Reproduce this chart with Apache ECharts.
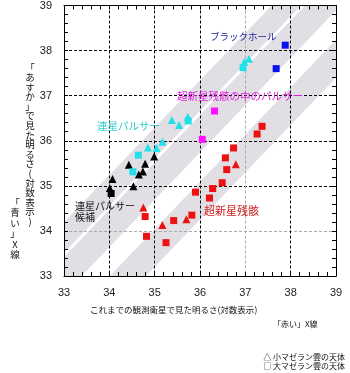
<!DOCTYPE html>
<html><head><meta charset="utf-8">
<script src="https://cdn.jsdelivr.net/npm/echarts@6/dist/echarts.min.js"></script>
<style>html,body{margin:0;padding:0;background:#fff;}#c{width:350px;height:373px;}</style>
</head><body><div id="c"></div>
<script>
// axis ranges / ticks
const axisMin = 33, axisMax = 39;
const gridColorsX = ['#000','#000','#000','#000','#aaa','#000','#000'];
const gridColorsY = ['#000','#aaa','#000','#000','#000','#000','#000'];

// points: [earlier satellites (red X-ray), ASCA (blue X-ray)]
const cyanTriangles = [[36.98,37.75],[37.08,37.82],[35.38,36.46],[35.54,36.35],[35.73,36.53],[35.17,35.98],[35.04,35.84],[34.85,35.85]];
const cyanSquares = [[36.95,37.62],[35.74,36.44],[34.64,35.68],[34.52,35.31]];
const blackTriangles = [[34.99,35.65],[34.79,35.49],[34.43,35.47],[34.74,35.32],[34.65,35.25],[34.07,35.15],[34.53,34.99],[34.01,34.95]];
const blackSquares = [[34.04,34.83]];
const redTriangles = [[36.79,35.48],[34.75,34.52],[35.70,34.26],[35.17,34.13]];
const redSquares = [[37.37,36.32],[37.26,36.15],[36.74,35.84],[36.56,35.62],[36.59,35.36],[36.49,35.07],[36.28,34.94],[35.90,34.86],[36.21,34.73],[34.79,34.32],[35.42,34.23],[35.82,34.35],[34.82,33.88],[35.25,33.74]];
const magentaSquares = [[36.32,36.66],[36.05,36.03]];
const blueSquares = [[37.88,38.12],[37.68,37.60]];

// shaded diagonal bands (polygon corners in data units)
const bandPulsar = [[32,33.14],[40,41.54],[40,40.86],[32,32.46]];
const bandMiddle = [[32,32.37],[40,40.77],[40,39.94],[32,31.54]];
const bandRemnant = [[32,30.89],[40,39.29],[40,38.45],[32,30.05]];
const bands = [bandPulsar, bandMiddle, bandRemnant];

const jp = '"Noto Sans CJK JP", sans-serif';
const chart = echarts.init(document.getElementById('c'), null, {renderer:'canvas'});

function axisBase(pos, showLabel, split, colors) {
  return {
    type:'value', position: pos, min: axisMin, max: axisMax, interval: 1, z: 3,
    axisLine:{show:true, onZero:false, lineStyle:{color:'#000', width:1}},
    axisTick:{show:true, inside:true, length:4, lineStyle:{color:'#000'}},
    minorTick:{show:true, splitNumber:5, length:4, lineStyle:{color:'#000'}},
    splitLine:{show: split, lineStyle:{color: colors, type:[3,2], width:1}},
    axisLabel:{show: showLabel, fontFamily:'"Liberation Sans", Arial, sans-serif', fontSize:11, color:'#222'}
  };
}
const xb = axisBase('bottom', true, true, gridColorsX); xb.axisLabel.margin = 11;
const xt = axisBase('top', false, false, '#000');
const yl = axisBase('left', true, true, gridColorsY); yl.axisLabel.margin = 12; yl.axisLabel.padding = [6,0,0,0];
const yr = axisBase('right', false, false, '#000');

function sc(data, symbol, size, color) {
  return {type:'scatter', data, symbol, symbolSize: size, z: 5, itemStyle:{color, opacity:1}, xAxisIndex:0, yAxisIndex:0, silent:true};
}

const vTitle = '「あすか」で見た明るさ(対数表示)'.split('').join('\n');
const vTitle2 = '「青い」X線'.split('').join('\n');

chart.setOption({
  animation:false,
  backgroundColor:'#fff',
  grid:{left:64, top:4, width:272, height:272},
  xAxis:[xb, xt],
  yAxis:[yl, yr],
  series:[
    {type:'custom', z:1, xAxisIndex:0, yAxisIndex:0, silent:true, clip:true,
     data: bands.map((b,i)=>[i]),
     renderItem:function(params, api){
       const poly = bands[params.dataIndex].map(p=>api.coord(p));
       const cs = params.coordSys;
       return {type:'polygon', shape:{points:poly}, style:{fill:'#e1dfe4'},
               clipPath:{type:'rect', shape:{x:cs.x, y:cs.y, width:cs.width, height:cs.height}}};
     }},
    sc(redSquares,'rect',7,'#ee1111'),
    sc(redTriangles,'triangle',8,'#ee1111'),
    sc(blackTriangles,'triangle',8,'#000'),
    sc(blackSquares,'rect',7,'#000'),
    sc(cyanSquares,'rect',7,'#22e0e8'),
    sc(cyanTriangles,'triangle',8,'#22e0e8'),
    sc(magentaSquares,'rect',7,'#ff11ff'),
    sc(blueSquares,'rect',7,'#0a10ee')
  ],
  graphic:{elements:[
    {type:'text', z:100, left:210, top:32, style:{text:'ブラックホール', font:'9.5px '+jp, fill:'#22229a'}},
    {type:'text', z:100, left:177, top:91, style:{text:'超新星残骸の中のパルサー', font:'10.5px '+jp, fill:'#dd22dd'}},
    {type:'text', z:100, left:97, top:121, style:{text:'連星パルサー', font:'10.5px '+jp, fill:'#33cccc'}},
    {type:'text', z:100, left:75, top:201, style:{text:'連星パルサー\n候補', font:'10px '+jp, lineHeight:11, fill:'#111'}},
    {type:'text', z:100, left:204, top:205, style:{text:'超新星残骸', font:'11px '+jp, fill:'#cc2222'}},
    {type:'text', z:100, left:90, top:306, style:{text:'これまでの観測衛星で見た明るさ(対数表示)', font:'8.5px '+jp, fill:'#111'}},
    {type:'text', z:100, left:273, top:320, style:{text:'「赤い」X線', font:'8px '+jp, fill:'#111'}},
    {type:'text', z:100, x:345, y:352, style:{text:'△ 小マゼラン雲の天体\n□ 大マゼラン雲の天体', font:'8px '+jp, lineHeight:9.5, textAlign:'right', fill:'#111'}},
    {type:'text', z:100, x:30, y:63, style:{text:vTitle, font:'9.5px '+jp, lineHeight:9.6, textAlign:'center', fill:'#111'}},
    {type:'text', z:100, x:15, y:197, style:{text:vTitle2, font:'9.5px '+jp, lineHeight:10.5, textAlign:'center', fill:'#111'}}
  ]}
});
</script></body></html>
